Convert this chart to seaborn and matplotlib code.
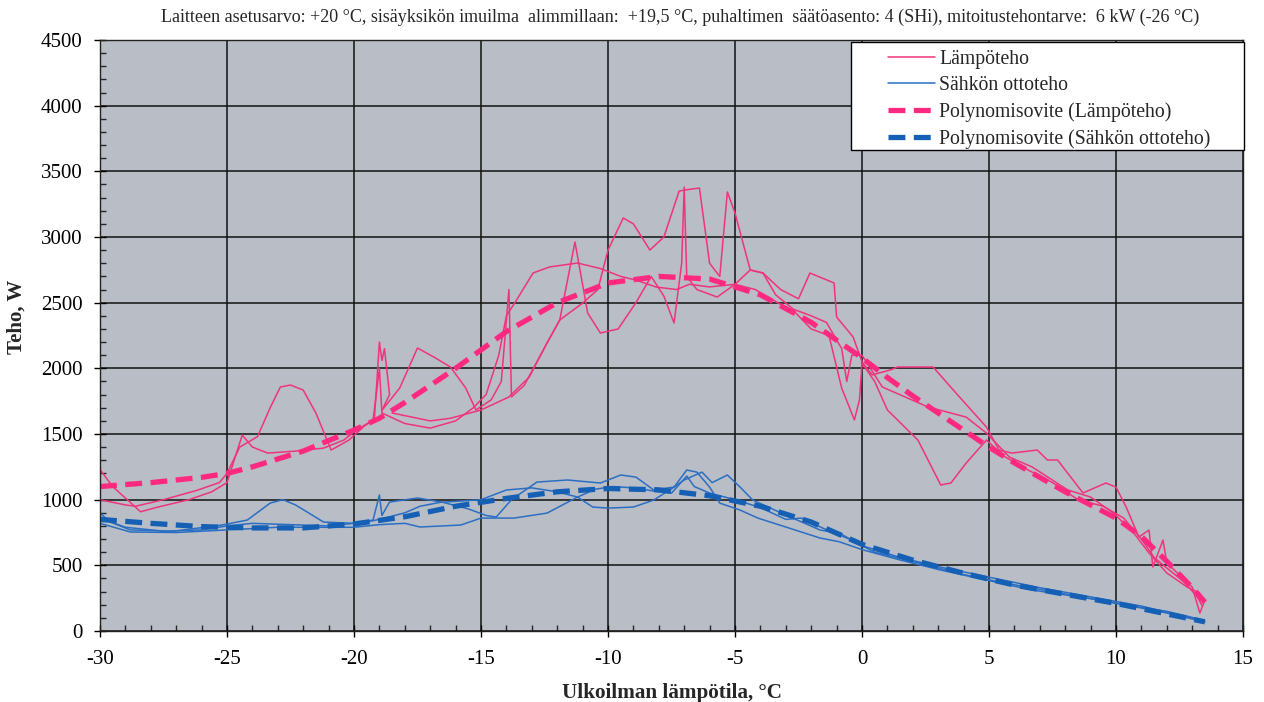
import matplotlib
matplotlib.use("Agg")
import matplotlib.pyplot as plt
from matplotlib.ticker import MultipleLocator
from matplotlib.patches import Rectangle
import seaborn as sns

# measured heating power traces (temperature, W)
heat_a_t = [-30.0, -29.0, -28.6, -27.5, -26.2, -25.3, -25.0, -24.5, -23.8, -23.3, -22.9, -22.5, -22.0,
            -21.5, -20.9, -20.2, -19.6, -19.2, -19.1, -19.0, -18.9, -18.8, -18.6, -18.9, -18.2, -17.5,
            -16.8, -16.2, -15.6, -15.2, -14.6, -14.2, -13.9, -13.8, -13.3, -12.4, -11.9, -11.3, -10.8,
            -10.3, -9.6, -8.9, -8.3, -7.8, -7.4, -7.1, -7.0, -6.9, -6.5, -5.7, -5.0, -4.2, -3.5, -2.6,
            -2.0, -1.3, -0.8, -0.3, -0.1, 0.0, 0.5, 1.0, 2.2, 2.6, 3.1, 3.5, 4.1, 4.9, 5.6, 6.5, 7.5,
            8.5, 9.5, 10.3, 11.0, 11.5, 12.0, 12.7, 13.2, 13.4]
heat_a_w = [1000, 960, 950, 1000, 1070, 1130, 1200, 1400, 1480, 1700, 1858, 1873, 1835,
            1660, 1378, 1454, 1560, 1610, 1900, 2200, 2060, 2150, 1800, 1680, 1850, 2155,
            2080, 2010, 1850, 1683, 1760, 1900, 2600, 1782, 1870, 2193, 2368, 2962, 2421,
            2269, 2300, 2500, 2700, 2550, 2345, 2800, 3380, 2700, 2600, 2543, 2640, 2600, 2520, 2420,
            2300, 2250, 1850, 1607, 1760, 2040, 1900, 1683, 1454, 1302, 1112, 1127, 1279, 1454, 1330, 1230, 1130,
            1000, 950, 860, 700, 560, 480, 370, 260, 190]

heat_b_t = [-30.0, -29.5, -28.4, -27.8, -26.5, -25.6, -25.0, -24.4, -24.0, -23.4, -22.3, -21.2, -20.4,
            -19.9, -19.25, -19.1, -19.0, -18.9, -18.0, -17.0, -16.0, -15.3, -14.8, -14.3, -14.0, -13.6,
            -12.95, -12.3, -11.2, -10.3, -9.5, -8.9, -8.1, -7.3, -6.8, -6.0, -5.0, -4.4, -3.9, -3.2,
            -2.5, -2.05, -1.1, -1.0, -0.35, 0.0, 0.4, 1.1, 1.4, 2.6, 2.8, 3.7, 4.9, 5.4, 5.9, 6.9, 7.3,
            7.7, 8.7, 9.6, 10.0, 10.4, 10.9, 11.3, 11.45, 11.85, 12.0, 13.0, 13.3, 13.5]
heat_b_w = [1230, 1100, 908, 940, 1000, 1060, 1130, 1492, 1401, 1355, 1370, 1393, 1454,
            1530, 1607, 1835, 2000, 1660, 1580, 1545, 1600, 1700, 1800, 2100, 2400, 2520,
            2726, 2772, 2802, 2760, 2700, 2672, 2619, 2600, 2640, 2620, 2640, 2749, 2726, 2600,
            2530, 2726, 2650, 2391, 2239, 2050, 1950, 1987, 2010, 2010, 2010, 1812, 1553, 1378, 1355, 1378, 1302,
            1302, 1051, 1127, 1096, 944, 716, 769, 487, 693, 518, 335, 137, 236]

heat_c_t = [-18.5, -17.0, -16.2, -15.0, -13.9, -13.1, -12.4, -11.9, -11.0, -10.4, -10.0, -9.4, -9.0,
            -8.35, -7.8, -7.2, -6.9, -6.4, -6.0, -5.6, -5.3, -5.0, -4.4, -3.9, -3.4, -2.7, -2.0, -1.4,
            -0.8, -0.6, -0.4, 0.0, 0.8, 2.6, 4.1, 4.9, 5.8, 6.7, 8.1, 9.0, 9.9, 10.7, 11.3, 12.0,
            12.8, 13.3]
heat_c_w = [1660, 1600, 1620, 1683, 1782, 1934, 2193, 2368, 2497, 2600, 2900, 3145, 3100,
            2901, 3000, 3350, 3360, 3373, 2800, 2700, 3343, 3183, 2749, 2726, 2560, 2450, 2400, 2350,
            2150, 1900, 2100, 2100, 1858, 1706, 1629, 1507, 1325, 1249, 1074, 1020, 898, 746, 594, 442,
            335, 289]

# measured electric input power traces
elec_a_t = [-30.0, -29.6, -28.8, -27.1, -25.2, -24.2, -23.3, -22.8, -22.3, -21.2, -20.0, -19.25, -19.0,
            -18.9, -18.6, -17.5, -16.5, -15.5, -14.8, -14.4, -13.8, -12.8, -11.6, -10.3, -9.5, -8.9,
            -8.2, -7.4, -6.9, -6.5, -6.0, -5.6, -4.8, -4.1, -3.0, -1.65, -0.9, 0.0, 1.5, 3.1, 4.9, 6.7,
            9.4, 12.0, 13.5]
elec_a_w = [898, 830, 770, 760, 807, 845, 974, 1000, 960, 830, 820, 845, 1036,
            880, 982, 1013, 980, 930, 880, 868, 1000, 1134, 1150, 1127, 1188, 1172,
            1074, 1096, 1226, 1210, 1096, 974, 921, 860, 792, 708, 680, 620, 541, 464, 388, 312,
            236, 137, 69]

elec_b_t = [-30.0, -29.0, -27.5, -26.0, -25.0, -24.0, -22.5, -21.0, -19.5, -19.0, -18.0, -17.4, -16.6,
            -15.8, -15.0, -14.0, -13.0, -12.0, -11.2, -10.6, -10.0, -9.0, -8.2, -7.4, -7.0, -6.3, -5.9,
            -5.3, -4.8, -4.3, -3.0, -1.65, -0.9, 0.0, 1.5, 3.0, 5.0, 7.0, 9.0, 11.0, 12.5, 13.4]
elec_b_w = [860, 790, 760, 770, 800, 820, 810, 800, 830, 850, 900, 950, 980,
            990, 1000, 1074, 1090, 1060, 1020, 944, 936, 944, 997, 1096, 1150, 1210, 1130,
            1188, 1096, 997, 883, 769, 746, 650, 560, 490, 410, 330, 260, 190, 120, 80]

elec_c_t = [-30.0, -28.8, -27.0, -25.0, -23.0, -21.5, -20.0, -19.0, -18.0, -17.4, -15.8, -15.0, -13.7,
            -12.4, -11.2, -10.5, -9.8, -9.0, -8.0, -7.5, -6.9, -6.6, -6.0, -5.0, -4.0, -3.0, -2.4, -1.5,
            -0.5, 0.5, 2.0, 4.0, 5.5, 7.5, 10.0, 12.0, 13.3]
elec_c_w = [820, 754, 750, 770, 790, 790, 790, 810, 820, 792, 807, 860, 860,
            898, 1020, 1080, 1100, 1090, 1060, 1050, 1180, 1100, 1050, 1000, 940, 850, 860, 780,
            700, 600, 530, 430, 370, 300, 210, 150, 90]

# polynomial fits
fit_t = [-30, -28, -26, -25, -24, -22, -20, -19, -18, -16, -14, -12, -10, -8, -6, -4, -2, 0, 1, 2, 3,
         4, 5, 6, 7, 8, 9, 10, 11, 12, 13, 13.5]
fit_heat = [1100, 1130, 1170, 1200, 1250, 1370, 1530, 1620, 1740, 2000, 2280, 2500, 2650, 2700, 2680,
            2560, 2350, 2080, 1930, 1790, 1660, 1530, 1400, 1280, 1170, 1060, 960, 860, 720, 530, 330,
            220]
fit_elec_t = [-30, -28, -26, -24, -22, -20, -18, -16, -14, -12, -10, -8, -6, -4, -2, 0, 2, 4, 6, 8,
              10, 12, 13.5]
fit_elec = [850, 820, 795, 785, 785, 815, 870, 950, 1010, 1060, 1085, 1075, 1030, 950, 830, 660, 540,
            440, 350, 280, 210, 130, 70]

labels = ["Lämpöteho", "Sähkön ottoteho", "Polynomisovite (Lämpöteho)",
          "Polynomisovite (Sähkön ottoteho)"]
title = ("Laitteen asetusarvo: +20 °C, sisäyksikön imuilma  alimmillaan:  +19,5 °C, puhaltimen  "
         "säätöasento: 4 (SHi), mitoitustehontarve:  6 kW (-26 °C)")

sns.set_style("ticks", {"axes.facecolor": "#b9bdc5", "axes.edgecolor": "black"})
plt.rcParams["font.family"] = ["Liberation Serif", "DejaVu Serif"]
plt.rcParams["axes.unicode_minus"] = False

pink = "#f0347c"
pink_fit = "#ff2a80"
blue = "#2a6fc4"
blue_fit = "#155fb5"

fig = plt.figure(figsize=(12.64, 7.02), dpi=100)
ax = fig.add_axes([0.0791, 0.1011, 0.9043, 0.8419])

heat = [(heat_a_t, heat_a_w), (heat_b_t, heat_b_w), (heat_c_t, heat_c_w)]
elec = [(elec_a_t, elec_a_w), (elec_b_t, elec_b_w), (elec_c_t, elec_c_w)]
for i, (t, w) in enumerate(heat):
    sns.lineplot(x=t, y=w, sort=False, estimator=None, color=pink, lw=1.1, ax=ax,
                 label=labels[0] if i == 0 else None)
for i, (t, w) in enumerate(elec):
    sns.lineplot(x=t, y=w, sort=False, estimator=None, color=blue, lw=1.1, ax=ax,
                 label=labels[1] if i == 0 else None)
sns.lineplot(x=fit_t, y=fit_heat, sort=False, estimator=None, color=pink_fit, lw=3.8, ax=ax,
             label=labels[2]).lines[-1].set_dashes((3.2, 1.6))
sns.lineplot(x=fit_elec_t, y=fit_elec, sort=False, estimator=None, color=blue_fit, lw=3.8, ax=ax,
             label=labels[3]).lines[-1].set_dashes((3.2, 1.6))

ax.set_xlim(-30, 15)
ax.set_ylim(0, 4500)
ax.xaxis.set_major_locator(MultipleLocator(5))
ax.xaxis.set_minor_locator(MultipleLocator(1))
ax.yaxis.set_major_locator(MultipleLocator(500))
ax.yaxis.set_minor_locator(MultipleLocator(100))
ax.grid(True, which="major", color="#111111", lw=1.1)
ax.tick_params(which="major", direction="inout", length=9, width=1, labelsize=15, colors="black")
ax.tick_params(which="minor", direction="in", length=4.5, width=1)
ax.tick_params(axis="x", pad=9)
ax.tick_params(axis="y", pad=8)
for s in ax.spines.values():
    s.set_linewidth(1.0)
    s.set_color("#222222")

ax.set_xlabel("Ulkoilman lämpötila, °C", fontsize=15.2, fontweight="bold", labelpad=10)
ax.set_ylabel("Teho, W", fontsize=15, fontweight="bold")
ax.yaxis.set_label_coords(-0.064, 0.531)
fig.text(0.538, 0.975, title, ha="center", va="center", fontsize=13)

# legend: white box with black edge, entries indented as in the original
ax.add_patch(Rectangle((0.6733, 0.7863), 0.3109, 0.1538, transform=fig.transFigure,
                       facecolor="white", edgecolor="black", lw=1.0, zorder=5, clip_on=False))
leg = ax.legend(loc="upper left", bbox_to_anchor=(0.7025, 0.9288), bbox_transform=fig.transFigure,
                fontsize=14.2, frameon=False, handlelength=2.4, borderpad=0, labelspacing=0.36,
                handletextpad=0.2, borderaxespad=0)
leg.set_zorder(6)

fig.savefig("out.png", dpi=100)
